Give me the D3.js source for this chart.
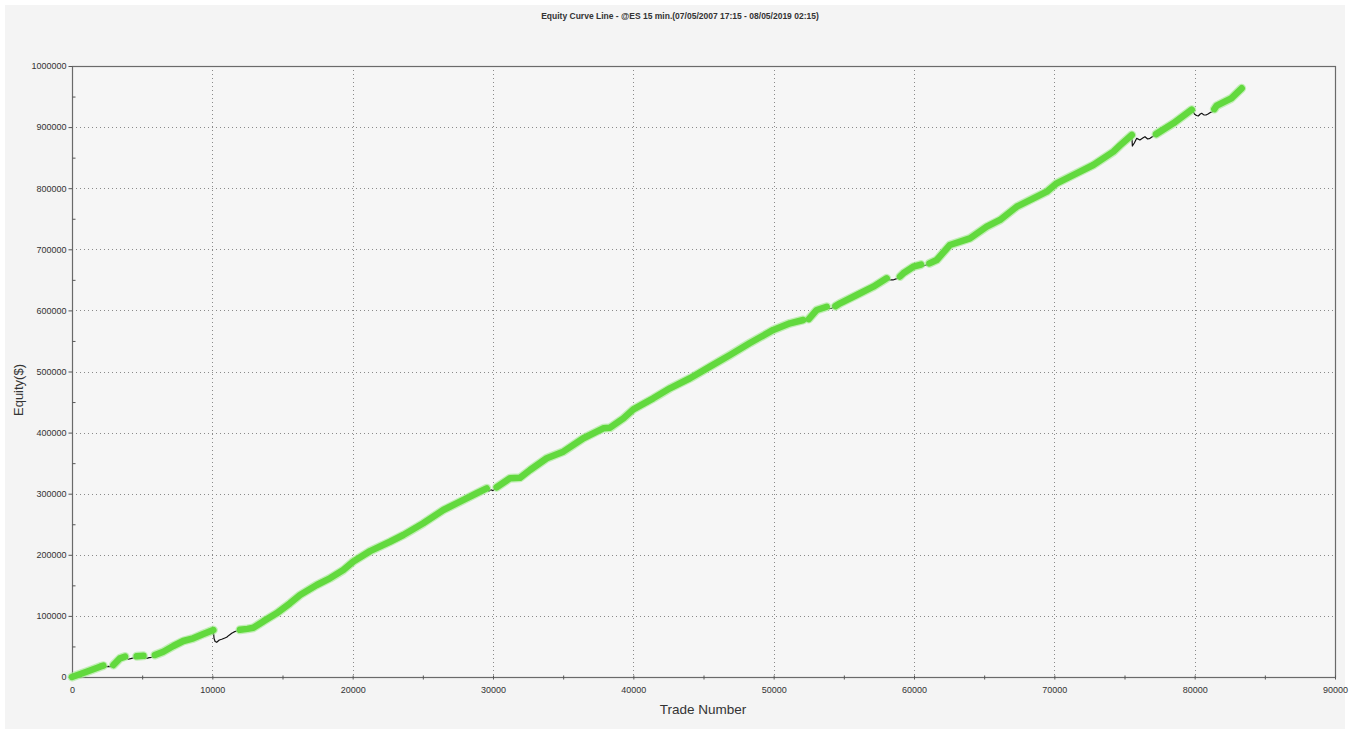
<!DOCTYPE html>
<html>
<head>
<meta charset="utf-8">
<script src="https://cdn.jsdelivr.net/npm/d3@7"></script>
<style>
  html, body { margin: 0; padding: 0; background: #ffffff; }
  svg { display: block; }
  text { font-family: Arial, "Liberation Sans", sans-serif; }
</style>
</head>
<body>
<svg id="chart" width="1350" height="734"></svg>
<script>
// ---------- data ----------
const chartTitle = "Equity Curve Line - @ES 15 min.(07/05/2007 17:15 - 08/05/2019 02:15)";
const xAxisTitle = "Trade Number";
const yAxisTitle = "Equity($)";

const tradeNumbers = [
  0, 1040, 2000, 2230, 2400, 2600, 2800, 2950, 3420, 3780,
  3900, 4010, 4250, 4450, 4610, 4850, 5090, 5200, 5320, 5500,
  5680, 5910, 6510, 7220, 7930, 8640, 9360, 10070, 10120, 10200,
  10310, 10500, 10670, 10850, 11020, 11200, 11380, 11550, 11740, 11970,
  12500, 12920, 13630, 14580, 15530, 16250, 17440, 18380, 19330, 20050,
  21240, 22660, 23610, 25030, 26460, 27650, 28840, 29550, 29700, 29850,
  30000, 30260, 31210, 31920, 32640, 33830, 35010, 36440, 37860, 38340,
  39290, 40000, 41420, 42610, 44040, 45460, 46890, 48310, 49970, 51160,
  52110, 52300, 52500, 53070, 53780, 53950, 54140, 54400, 54730, 55920,
  57100, 58050, 58250, 58500, 58770, 59000, 59240, 59950, 60500, 60700,
  60900, 61100, 61620, 62560, 63990, 65180, 66130, 67320, 68510, 69460,
  70170, 71590, 72780, 74210, 74680, 75520, 75560, 75700, 75870, 76100,
  76300, 76460, 76650, 76820, 77060, 77250, 78480, 79790, 79900, 79980,
  80130, 80260, 80400, 80500, 80650, 80810, 80950, 81090, 81280, 81400,
  81570, 82610, 83350
];
const equityValues = [
  0, 8700, 16900, 18500, 16800, 17300, 16900, 19600, 30600, 33400,
  31000, 29000, 30600, 31500, 33800, 34400, 34600, 32000, 30600, 31800,
  32200, 36000, 41400, 50700, 58900, 63300, 70400, 76900, 63300, 58000,
  56800, 60500, 61700, 63500, 65000, 68500, 71500, 73800, 75300, 77200,
  78800, 80500, 91000, 104300, 120600, 134200, 150600, 161500, 175000, 189000,
  206000, 221400, 232400, 251600, 273300, 286900, 300700, 308800, 304000, 306500,
  305000, 310500, 325200, 326000, 338800, 358000, 368800, 390700, 407000, 408000,
  423400, 438100, 456100, 472500, 488900, 507900, 527000, 546700, 568000, 578900,
  584300, 582500, 585800, 600700, 606000, 603000, 603500, 607000, 611600, 625200,
  638800, 652500, 650000, 649800, 652000, 655500, 660700, 671500, 675000, 673000,
  674500, 677000, 682500, 707000, 718000, 737000, 748000, 769700, 783400, 794300,
  808000, 824400, 838000, 859800, 870000, 887100, 869000, 874000, 881600, 878900,
  882000, 884300, 880500, 881600, 885500, 888500, 906200, 928500, 925000, 921600,
  919000, 918200, 921500, 922600, 920000, 919800, 921500, 923600, 925200, 929500,
  935000, 947000, 963500
];

const xTickValues = [0, 10000, 20000, 30000, 40000, 50000, 60000, 70000, 80000, 90000];
const xMinorTickValues = [5000, 15000, 25000, 35000, 45000, 55000, 65000, 75000, 85000];
const yTickValues = [0, 100000, 200000, 300000, 400000, 500000, 600000, 700000, 800000, 900000, 1000000];
const yMinorTickValues = [50000, 150000, 250000, 350000, 450000, 550000, 650000, 750000, 850000, 950000];

// ---------- layout ----------
const W = 1350, H = 734;
const plot = { left: 72, right: 1335, top: 66, bottom: 677 };

const svg = d3.select("#chart");

svg.append("rect")
  .attr("x", 5).attr("y", 5).attr("width", W - 10).attr("height", H - 10)
  .attr("fill", "#f4f4f4");

const x = d3.scaleLinear().domain([0, 90000]).range([plot.left, plot.right]);
const y = d3.scaleLinear().domain([0, 1000000]).range([plot.bottom, plot.top]);

// plot background
svg.append("rect")
  .attr("x", plot.left).attr("y", plot.top)
  .attr("width", plot.right - plot.left).attr("height", plot.bottom - plot.top)
  .attr("fill", "#f6f6f6");

// grid lines
const grid = svg.append("g").attr("stroke", "#8a8a8a").attr("stroke-width", 1)
  .attr("stroke-dasharray", "1,3");
grid.selectAll("line.gy")
  .data(yTickValues.filter(v => v > 0 && v < 1000000))
  .join("line").attr("class", "gy")
  .attr("x1", plot.left).attr("x2", plot.right)
  .attr("y1", d => Math.round(y(d)) + 0.5).attr("y2", d => Math.round(y(d)) + 0.5);
grid.selectAll("line.gx")
  .data(xTickValues.filter(v => v > 0 && v < 90000))
  .join("line").attr("class", "gx")
  .attr("y1", plot.top).attr("y2", plot.bottom)
  .attr("x1", d => Math.round(x(d)) + 0.5).attr("x2", d => Math.round(x(d)) + 0.5);

// plot frame
svg.append("rect")
  .attr("x", plot.left + 0.5).attr("y", plot.top + 0.5)
  .attr("width", plot.right - plot.left).attr("height", plot.bottom - plot.top)
  .attr("fill", "none").attr("stroke", "#6a6a6a").attr("stroke-width", 1.2);

// y axis (major with labels)
const yAxis = svg.append("g").attr("transform", `translate(${plot.left + 0.5},0)`)
  .call(d3.axisLeft(y).tickValues(yTickValues).tickSize(4).tickSizeOuter(0)
    .tickPadding(2).tickFormat(d3.format("d")));
yAxis.select(".domain").remove();
yAxis.selectAll("line").attr("stroke", "#555");
yAxis.selectAll("text").attr("font-size", "9px").attr("fill", "#333")
  .attr("font-family", "Arial, 'Liberation Sans', sans-serif");

// y minor ticks
const yMinor = svg.append("g").attr("transform", `translate(${plot.left + 0.5},0)`)
  .call(d3.axisLeft(y).tickValues(yMinorTickValues).tickSize(-3).tickSizeOuter(0).tickFormat(""));
yMinor.select(".domain").remove();
yMinor.selectAll("line").attr("stroke", "#555");

// x axis (labels)
const xAxis = svg.append("g").attr("transform", `translate(0,${plot.bottom + 0.5})`)
  .call(d3.axisBottom(x).tickValues(xTickValues).tickSize(2).tickSizeOuter(0)
    .tickPadding(7).tickFormat(d3.format("d")));
xAxis.select(".domain").remove();
xAxis.selectAll("line").attr("stroke", "#555");
xAxis.selectAll("text").attr("font-size", "9px").attr("fill", "#333")
  .attr("font-family", "Arial, 'Liberation Sans', sans-serif");

// x ticks crossing up + minor ticks
const xUp = svg.append("g").attr("transform", `translate(0,${plot.bottom + 0.5})`)
  .call(d3.axisBottom(x).tickValues(xTickValues.concat(xMinorTickValues)).tickSize(-2)
    .tickSizeOuter(0).tickFormat(""));
xUp.select(".domain").remove();
xUp.selectAll("line").attr("stroke", "#555");
const xDown = svg.append("g").attr("transform", `translate(0,${plot.bottom + 0.5})`)
  .call(d3.axisBottom(x).tickValues(xMinorTickValues).tickSize(2)
    .tickSizeOuter(0).tickFormat(""));
xDown.select(".domain").remove();
xDown.selectAll("line").attr("stroke", "#555");

// ---------- equity curve ----------
let runMax = -Infinity;
const points = tradeNumbers.map((t, i) => {
  const e = equityValues[i];
  const high = e >= runMax;
  if (e > runMax) runMax = e;
  return { t, e, high };
});

const lineGen = d3.line().x(d => x(d.t)).y(d => y(d.e));

svg.append("path")
  .datum(points)
  .attr("d", lineGen)
  .attr("fill", "none")
  .attr("stroke", "#111")
  .attr("stroke-width", 1.2)
  .attr("stroke-linejoin", "round");

const greenGen = d3.line().defined(d => d.high).x(d => x(d.t)).y(d => y(d.e));

svg.append("path")
  .datum(points)
  .attr("d", greenGen)
  .attr("fill", "none")
  .attr("stroke", "#a6ea94")
  .attr("stroke-opacity", 0.65)
  .attr("stroke-width", 9)
  .attr("stroke-linecap", "round")
  .attr("stroke-linejoin", "round");

svg.append("path")
  .datum(points)
  .attr("d", greenGen)
  .attr("fill", "none")
  .attr("stroke", "#62d93e")
  .attr("stroke-width", 6.5)
  .attr("stroke-linecap", "round")
  .attr("stroke-linejoin", "round");

// ---------- titles ----------
svg.append("text")
  .attr("x", 680).attr("y", 19)
  .attr("text-anchor", "middle")
  .attr("font-size", "8.5px")
  .attr("font-weight", "bold")
  .attr("fill", "#333")
  .text(chartTitle);

svg.append("text")
  .attr("x", 703).attr("y", 714)
  .attr("text-anchor", "middle")
  .attr("font-size", "13.5px")
  .attr("fill", "#333")
  .text(xAxisTitle);

svg.append("text")
  .attr("transform", "translate(23,390) rotate(-90)")
  .attr("text-anchor", "middle")
  .attr("font-size", "13px")
  .attr("fill", "#333")
  .text(yAxisTitle);
</script>
</body>
</html>
